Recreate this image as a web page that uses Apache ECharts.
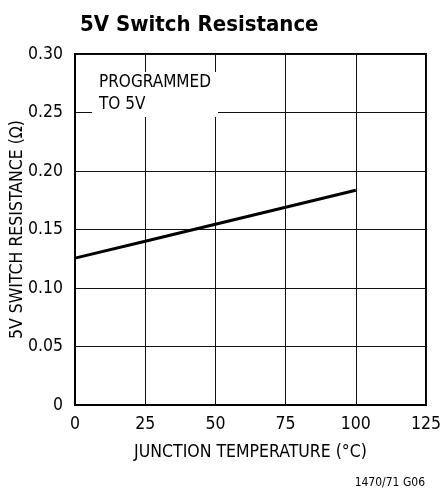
<!DOCTYPE html>
<html>
<head>
<meta charset="utf-8">
<script src="https://cdn.jsdelivr.net/npm/echarts@6/dist/echarts.min.js"></script>
<style>
html,body{margin:0;padding:0;background:#fff;}
#chart{width:440px;height:489px;}
</style>
</head>
<body>
<div id="chart"></div>
<script>
var temperatures = [0, 25, 50, 75, 100];
var resistance = [0.1255, 0.140, 0.1545, 0.169, 0.1835];
var xTicks = [0, 25, 50, 75, 100, 125];
var yTicks = [0, 0.05, 0.10, 0.15, 0.20, 0.25, 0.30];

var FONT = "'Liberation Sans Narrow', 'DejaVu Sans Condensed', 'Liberation Sans', sans-serif";

var chart = echarts.init(document.getElementById('chart'), null, {renderer: 'canvas'});
var seriesData = temperatures.map(function (t, i) { return [t, resistance[i]]; });

chart.setOption({
  animation: false,
  backgroundColor: '#fff',
  title: {
    text: '5V Switch Resistance',
    left: 75,
    top: 9,
    textStyle: {fontFamily: FONT, fontWeight: 'bold', fontSize: 22, color: '#000'}
  },
  grid: {left: 75, right: 14, top: 54, bottom: 84, containLabel: false, outerBoundsMode: 'none',
    show: true, borderColor: '#000', borderWidth: 2, backgroundColor: 'transparent'},
  xAxis: {
    type: 'value',
    min: xTicks[0], max: xTicks[xTicks.length - 1], interval: 25,
    name: 'JUNCTION TEMPERATURE (°C)',
    nameLocation: 'middle', nameGap: 38,
    nameTextStyle: {fontFamily: FONT, fontSize: 17.5, color: '#000'},
    axisLine: {show: true, lineStyle: {color: '#000', width: 2}},
    axisTick: {show: false},
    axisLabel: {fontFamily: FONT, fontSize: 17.5, color: '#000', margin: 10},
    splitLine: {show: true, lineStyle: {color: '#111', width: 1}}
  },
  yAxis: {
    type: 'value',
    min: yTicks[0], max: yTicks[yTicks.length - 1], interval: 0.05,
    name: '5V SWITCH RESISTANCE (Ω)',
    nameLocation: 'middle', nameGap: 49, nameMoveOverlap: false,
    nameTextStyle: {fontFamily: FONT, fontSize: 17.5, color: '#000'},
    axisLine: {show: true, lineStyle: {color: '#000', width: 2}},
    axisTick: {show: false},
    axisLabel: {fontFamily: FONT, fontSize: 17.5, color: '#000', margin: 12,
      formatter: function (v) { return v === 0 ? '0' : v.toFixed(2); }},
    splitLine: {show: true, lineStyle: {color: '#111', width: 1}}
  },
  series: [{
    type: 'line',
    data: seriesData,
    showSymbol: false,
    symbol: 'none',
    lineStyle: {color: '#000', width: 3},
    z: 5
  }],
  graphic: [
    {type: 'rect', shape: {x: 92, y: 72, width: 126, height: 45}, style: {fill: '#fff'}, z: 10},
    {type: 'text', x: 99, y: 72, z: 11, style: {text: 'PROGRAMMED\nTO 5V', fontFamily: FONT, fontSize: 17, lineHeight: 22, fill: '#000', textAlign: 'left', textVerticalAlign: 'top'}},
    {type: 'text', x: 425, y: 483, z: 11, style: {text: '1470/71 G06', fontFamily: FONT, fontSize: 12, fill: '#000', textAlign: 'right', textVerticalAlign: 'middle'}}
  ]
});
</script>
</body>
</html>
